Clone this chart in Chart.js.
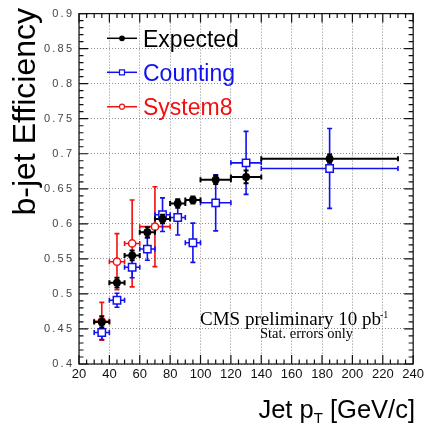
<!DOCTYPE html>
<html>
<head>
<meta charset="utf-8">
<script src="https://cdn.jsdelivr.net/npm/chart.js@4.4.1/dist/chart.umd.min.js"></script>
<style>
  html, body { margin: 0; padding: 0; background: #fff; }
  #wrap { width: 427px; height: 426px; }
</style>
</head>
<body>
<div id="wrap"><canvas id="effChart" width="427" height="426"></canvas></div>
<script>
// jet pT bins (GeV/c)
const binEdges = [30, 40, 50, 60, 70, 80, 90, 100, 120, 140, 230];
const system8Edges = [30, 40, 50, 60, 80];

// b-tag efficiency per bin
const expectedEff = [0.460, 0.516, 0.555, 0.588, 0.607, 0.629, 0.634, 0.663, 0.667, 0.693];
const expectedErr = [0.008, 0.007, 0.007, 0.007, 0.006, 0.006, 0.005, 0.006, 0.009, 0.006];
const countingEff = [0.445, 0.491, 0.538, 0.564, 0.613, 0.609, 0.573, 0.630, 0.687, 0.679];
const countingErr = [0.010, 0.010, 0.015, 0.016, 0.024, 0.025, 0.028, 0.040, 0.045, 0.057];
const system8Eff = [0.461, 0.546, 0.572, 0.596];
const system8Err = [0.027, 0.040, 0.062, 0.057];

const seriesNames = ["Expected", "Counting", "System8"];
const seriesColors = ["#000000", "#1010f0", "#f01010"];

const xRange = [20, 240];
const yRange = [0.4, 0.9];

const SANS = "'Liberation Sans', Arial, sans-serif";
const SERIF = "'Liberation Serif', 'Times New Roman', serif";

function makePoints(edges, eff, err) {
  return eff.map((v, i) => ({
    x: (edges[i] + edges[i + 1]) / 2,
    y: v,
    lo: edges[i],
    hi: edges[i + 1],
    err: err[i]
  }));
}

// horizontal bin width + vertical stat error, drawn under each dataset's markers
const errorBars = {
  id: "errorBars",
  beforeDatasetDraw(chart, args) {
    const ds = chart.data.datasets[args.index];
    const xs = chart.scales.x, ys = chart.scales.y;
    const ctx = chart.ctx;
    const cap = 2.5;
    ctx.save();
    ctx.strokeStyle = ds.borderColor;
    ctx.lineWidth = ds.errWidth;
    ds.data.forEach(p => {
      const xc = xs.getPixelForValue(p.x);
      const x0 = xs.getPixelForValue(p.lo);
      const x1 = xs.getPixelForValue(p.hi);
      const yc = ys.getPixelForValue(p.y);
      const yt = ys.getPixelForValue(p.y + p.err);
      const yb = ys.getPixelForValue(p.y - p.err);
      ctx.beginPath();
      ctx.moveTo(x0, yc); ctx.lineTo(x1, yc);
      ctx.moveTo(x0, yc - cap); ctx.lineTo(x0, yc + cap);
      ctx.moveTo(x1, yc - cap); ctx.lineTo(x1, yc + cap);
      ctx.moveTo(xc, yt); ctx.lineTo(xc, yb);
      ctx.moveTo(xc - cap, yt); ctx.lineTo(xc + cap, yt);
      ctx.moveTo(xc - cap, yb); ctx.lineTo(xc + cap, yb);
      ctx.stroke();
    });
    ctx.restore();
  }
};

// ROOT style frame with inward ticks on all four sides
const frameTicks = {
  id: "frameTicks",
  afterDatasetsDraw(chart) {
    const { ctx, chartArea: a } = chart;
    const xs = chart.scales.x, ys = chart.scales.y;
    ctx.save();
    ctx.strokeStyle = "#111";
    ctx.lineWidth = 1.2;
    ctx.strokeRect(a.left, a.top, a.right - a.left, a.bottom - a.top);
    ctx.beginPath();
    for (let v = xRange[0]; v <= xRange[1]; v += 5) {
      const px = xs.getPixelForValue(v);
      const len = v % 20 === 0 ? 9 : 4.5;
      ctx.moveTo(px, a.bottom); ctx.lineTo(px, a.bottom - len);
      ctx.moveTo(px, a.top); ctx.lineTo(px, a.top + len);
    }
    for (let i = 0; i <= 50; i++) {
      const py = ys.getPixelForValue(yRange[0] + i * 0.01);
      const len = i % 5 === 0 ? 9 : 4.5;
      ctx.moveTo(a.left, py); ctx.lineTo(a.left + len, py);
      ctx.moveTo(a.right, py); ctx.lineTo(a.right - len, py);
    }
    ctx.stroke();
    ctx.restore();
  }
};

function drawMarker(ctx, i, x, y) {
  ctx.save();
  ctx.lineWidth = 1.2;
  ctx.strokeStyle = seriesColors[i];
  ctx.fillStyle = i === 0 ? seriesColors[i] : "#fff";
  ctx.beginPath();
  if (i === 1) ctx.rect(x - 2.5, y - 2.5, 5, 5);
  else ctx.arc(x, y, i === 0 ? 2.3 : 2.5, 0, Math.PI * 2);
  ctx.fill();
  ctx.stroke();
  ctx.restore();
}

// legend, axis titles and the CMS label
const textLayer = {
  id: "textLayer",
  afterDraw(chart) {
    const ctx = chart.ctx;
    ctx.save();

    // legend
    const legendY = [38.3, 72.3, 106.7];
    seriesNames.forEach((name, i) => {
      const y = legendY[i];
      ctx.strokeStyle = seriesColors[i];
      ctx.lineWidth = 1.5;
      ctx.beginPath();
      ctx.moveTo(107, y); ctx.lineTo(137, y);
      ctx.stroke();
      drawMarker(ctx, i, 122, y);
      ctx.fillStyle = seriesColors[i];
      ctx.font = "23px " + SANS;
      ctx.textAlign = "left";
      ctx.textBaseline = "alphabetic";
      ctx.fillText(name, 143, y + 8.3);
    });

    // y title
    ctx.save();
    ctx.translate(35, 8);
    ctx.rotate(-Math.PI / 2);
    ctx.fillStyle = "#000";
    ctx.font = "32px " + SANS;
    ctx.textAlign = "right";
    ctx.textBaseline = "alphabetic";
    ctx.fillText("b-jet Efficiency", 0, 0);
    ctx.restore();

    // x title, right aligned with subscript T
    const big = "25.5px " + SANS, small = "15px " + SANS;
    const part1 = "Jet p", part2 = "T", part3 = " [GeV/c]";
    ctx.font = big;
    const w1 = ctx.measureText(part1).width, w3 = ctx.measureText(part3).width;
    ctx.font = small;
    const w2 = ctx.measureText(part2).width;
    let x = 415 - (w1 + w2 + w3);
    const base = 418;
    ctx.fillStyle = "#000";
    ctx.textAlign = "left";
    ctx.font = big; ctx.fillText(part1, x, base); x += w1;
    ctx.font = small; ctx.fillText(part2, x, base + 5); x += w2;
    ctx.font = big; ctx.fillText(part3, x, base);

    // CMS label
    ctx.font = "19px " + SERIF;
    ctx.fillText("CMS preliminary 10 pb", 200, 325);
    const wc = ctx.measureText("CMS preliminary 10 pb").width;
    ctx.font = "10px " + SERIF;
    ctx.fillText("-1", 200 + wc - 1, 318);
    ctx.font = "14.5px " + SERIF;
    ctx.fillText("Stat. errors only", 260, 338);

    ctx.restore();
  }
};

const pointStyles = [
  { pointStyle: "circle", radius: 3.2, bg: "#000", errWidth: 2 },
  { pointStyle: "rect", radius: 5.2, bg: "#fff", errWidth: 1.6 },
  { pointStyle: "circle", radius: 3.6, bg: "#fff", errWidth: 1.6 }
];

const seriesPoints = [
  makePoints(binEdges, expectedEff, expectedErr),
  makePoints(binEdges, countingEff, countingErr),
  makePoints(system8Edges, system8Eff, system8Err)
];

const datasets = seriesNames.map((name, i) => ({
  label: name,
  data: seriesPoints[i],
  showLine: false,
  borderColor: seriesColors[i],
  backgroundColor: pointStyles[i].bg,
  pointStyle: pointStyles[i].pointStyle,
  pointRadius: pointStyles[i].radius,
  pointBorderWidth: 1.5,
  errWidth: pointStyles[i].errWidth
}));

new Chart(document.getElementById("effChart"), {
  type: "scatter",
  data: { datasets },
  options: {
    responsive: false,
    animation: false,
    layout: { padding: { top: 13, right: 11, left: 0, bottom: 0 } },
    plugins: { legend: { display: false }, tooltip: { enabled: false } },
    scales: {
      x: {
        type: "linear",
        min: xRange[0],
        max: xRange[1],
        afterFit: s => { s.height = 62; },
        ticks: {
          stepSize: 20,
          autoSkip: false,
          maxRotation: 0,
          padding: 3,
          color: "#111",
          font: { family: SANS, size: 13 }
        },
        grid: { color: "#8a8a8a", lineWidth: 1, drawTicks: false },
        border: { display: false, dash: [1, 2] }
      },
      y: {
        type: "linear",
        min: yRange[0],
        max: yRange[1],
        afterFit: s => { s.width = 79; },
        ticks: {
          stepSize: 0.05,
          padding: 7,
          color: "#444",
          font: { family: SANS, size: 11 },
          callback: v => String(Math.round(v * 100) / 100).split("").join("\u2009")
        },
        grid: { color: "#8a8a8a", lineWidth: 1, drawTicks: false },
        border: { display: false, dash: [1, 2] }
      }
    }
  },
  plugins: [errorBars, frameTicks, textLayer]
});
</script>
</body>
</html>
